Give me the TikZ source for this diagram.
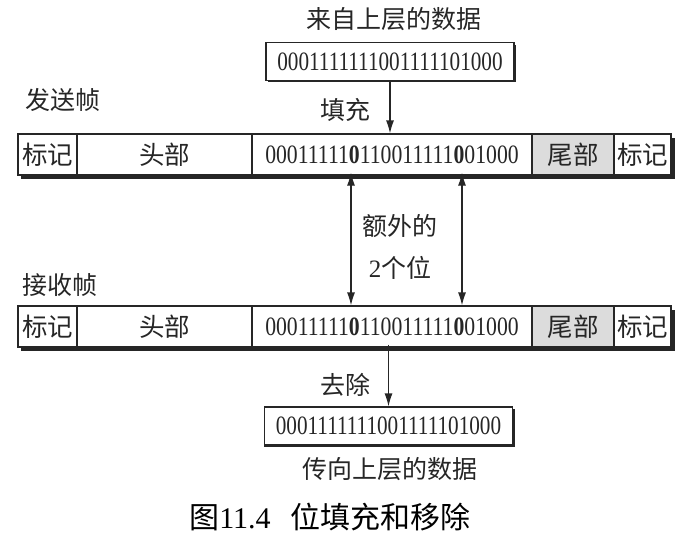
\documentclass[tikz,border=0pt]{standalone}
\usepackage{fontspec}
\usepackage{graphicx}
\setmainfont{Liberation Serif}
\newfontfamily\cjk{Noto Sans CJK SC}
\usetikzlibrary{arrows.meta}
\definecolor{ink}{HTML}{262626}
\definecolor{tailgray}{HTML}{DCDCDC}
\begin{document}
\begin{tikzpicture}[x=1pt,y=-1pt,
  cell/.style={draw=ink, line width=1.2pt, fill=white, minimum height=41pt, inner sep=0pt, text=ink, font=\cjk\fontsize{25.5}{25.5}\selectfont},
  datacell/.style={cell, font=\fontsize{26.5}{26.5}\selectfont},
  databox/.style={draw=ink, line width=1.2pt, fill=white, minimum width=248pt, minimum height=38pt, inner sep=0pt, text=ink, font=\fontsize{26.5}{26.5}\selectfont},
  lbl/.style={text=ink, inner sep=0pt, font=\cjk\fontsize{25}{25}\selectfont},
  arr/.style={draw=ink, line width=1.2pt, -{Latex[length=13pt,width=8pt]}},
  dbl/.style={draw=ink, line width=1.2pt, {Latex[length=13pt,width=8pt]}-{Latex[length=13pt,width=8pt]}},
  shadow/.style={fill=ink}
]
\useasboundingbox (0,0) rectangle (687,544);

% title and top data box
\node[lbl] (toptitle) at (394,19) {来自上层的数据};
\fill[shadow] (268,45) rectangle (516,82);
\node[databox] (topbox) at (390,61.5) {\scalebox{0.8}[1]{0001111111001111101000}};

% sending frame
\node[lbl] (sendlbl) at (63,100) {发送帧};
\fill[shadow] (21,137.5) rectangle (674.5,179);
\node[cell, minimum width=59pt] (sf1) at (47.5,154.5) {标记};
\node[cell, minimum width=175pt] (sh) at (164.5,154.5) {头部};
\node[datacell, minimum width=280pt] (sd) at (392,154.5) {\scalebox{0.82}[1]{00011111\textbf{0}110011111\textbf{0}01000}};
\node[cell, minimum width=82pt, fill=tailgray] (st) at (573,154.5) {尾部};
\node[cell, minimum width=57pt] (sf2) at (642.5,154.5) {标记};

\draw[arr] (topbox.south) -- (topbox.south |- sd.north);
\node[lbl] (fill) at (345,110) {填充};

% receiving frame
\node[lbl] (recvlbl) at (60,285) {接收帧};
\fill[shadow] (21,309.5) rectangle (674.5,351);
\node[cell, minimum width=59pt] (rf1) at (47.5,326.5) {标记};
\node[cell, minimum width=175pt] (rh) at (164.5,326.5) {头部};
\node[datacell, minimum width=280pt] (rd) at (392,326.5) {\scalebox{0.82}[1]{00011111\textbf{0}110011111\textbf{0}01000}};
\node[cell, minimum width=82pt, fill=tailgray] (rt) at (573,326.5) {尾部};
\node[cell, minimum width=57pt] (rf2) at (642.5,326.5) {标记};

% extra bits arrows
\coordinate (xa) at (351,0);
\coordinate (xb) at (462,0);
\draw[dbl] ([yshift=3pt]sd.south -| xa) -- (rd.north -| xa);
\draw[dbl] ([yshift=3pt]sd.south -| xb) -- (rd.north -| xb);
\node[lbl] (extra1) at (400,226) {额外的};
\node[lbl] (extra2) at (400,268) {{\fontspec{Liberation Serif}2}个位};

% bottom box
\fill[shadow] (264,409) rectangle (515,447);
\node[databox] (botbox) at (388.5,426) {\scalebox{0.8}[1]{0001111111001111101000}};
\draw[arr] ([yshift=3pt]rd.south -| botbox.north) -- (botbox.north);
\node[lbl] (remove) at (345,385) {去除};
\node[lbl] (bottitle) at (390,469) {传向上层的数据};

% caption
\node[text=black, inner sep=0pt, font=\fontsize{30}{30}\selectfont] (caption) at (330,517) {{\cjk 图}11.4\hspace{20pt}{\cjk 位填充和移除}};
\end{tikzpicture}
\end{document}
